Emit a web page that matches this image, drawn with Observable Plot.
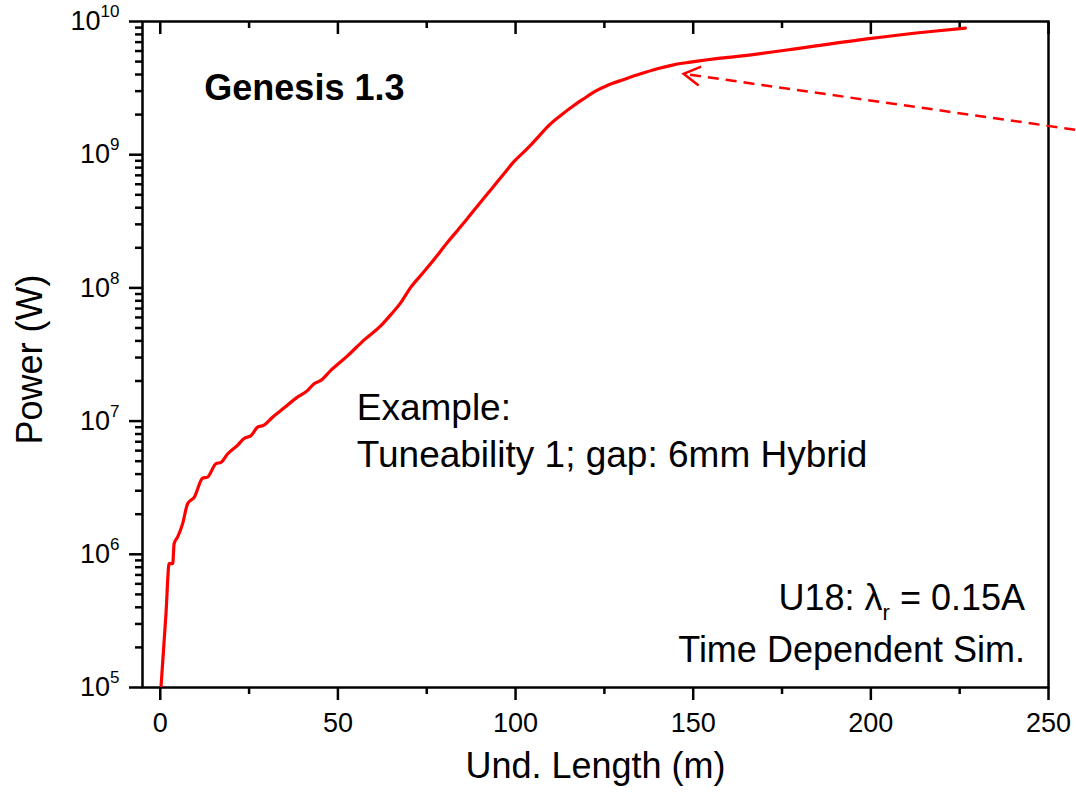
<!DOCTYPE html>
<html>
<head>
<meta charset="utf-8">
<script src="https://cdn.jsdelivr.net/npm/d3@7"></script>
<script src="https://cdn.jsdelivr.net/npm/@observablehq/plot@0.6"></script>
<style>
  body { margin: 0; background: #fff; }
  #chart svg { display: block; }
</style>
</head>
<body>
<div id="chart"></div>
<script>
// ---- data ----
const undLength = [0.2, 1.6, 2.5, 3.5, 3.9, 4.9, 6.3, 7.7, 9.6, 11.9, 13.3, 15.7, 17.1, 19.0, 21.8, 23.6, 25.5, 27.4, 29.2, 31.6, 34.9, 38.4, 41.5, 43.3, 45.2, 48.0, 52.7, 57.4, 62.1, 64.9, 67.7, 70.5, 74.2, 77.1, 80.8, 83.6, 86.4, 90.2, 93.3, 96.5, 99.6, 103.3, 106.6, 109.4, 112.7, 116.4, 119.2, 122.5, 125.8, 130.5, 135.2, 139.9, 144.5, 149.2, 157.7, 161.4, 180.2, 198.9, 217.7, 226.6];
const power = [1.00e5, 3.55e5, 8.5e5, 8.5e5, 1.20e6, 1.35e6, 1.70e6, 2.40e6, 2.69e6, 3.72e6, 3.80e6, 4.79e6, 4.90e6, 5.69e6, 6.61e6, 7.41e6, 7.76e6, 9.02e6, 9.33e6, 1.07e7, 1.26e7, 1.50e7, 1.70e7, 1.91e7, 2.02e7, 2.40e7, 3.09e7, 4.07e7, 5.20e7, 6.30e7, 7.76e7, 1.01e8, 1.32e8, 1.64e8, 2.19e8, 2.69e8, 3.31e8, 4.42e8, 5.56e8, 7.08e8, 8.91e8, 1.11e9, 1.38e9, 1.66e9, 1.97e9, 2.34e9, 2.63e9, 3.00e9, 3.31e9, 3.67e9, 4.05e9, 4.42e9, 4.73e9, 4.95e9, 5.31e9, 5.43e9, 6.31e9, 7.41e9, 8.45e9, 8.91e9];

const xTicks = [0, 50, 100, 150, 200, 250];
const xMinorTicks = [25, 75, 125, 175, 225];
const yTicks = [1e5, 1e6, 1e7, 1e8, 1e9, 1e10];
const yMinorTicks = [2e5,3e5,4e5,5e5,6e5,7e5,8e5,9e5, 2e6,3e6,4e6,5e6,6e6,7e6,8e6,9e6, 2e7,3e7,4e7,5e7,6e7,7e7,8e7,9e7, 2e8,3e8,4e8,5e8,6e8,7e8,8e8,9e8, 2e9,3e9,4e9,5e9,6e9,7e9,8e9,9e9];

const xLabel = "Und. Length (m)";
const yLabel = "Power (W)";
const titleText = "Genesis 1.3";
const exampleLines = ["Example:", "Tuneability 1; gap: 6mm Hybrid"];
const simLines = ["U18: λ_r = 0.15A", "Time Dependent Sim."];

// arrow (pointer) annotation: tail and tip in data coordinates
const arrowTail = {x: 257.5, y: 1.54e9};
const arrowTip = {x: 147.3, y: 4.05e9};

// ---- build ----
const curve = undLength.map((x, i) => ({x, y: power[i]}));
const FONT = "'Liberation Sans', Arial, Helvetica, sans-serif";
const RED = "#ff0000";

const arrowHead = {
  draw(ctx) {
    const L = 19, a = Math.PI / 6;
    ctx.moveTo(L * Math.cos(a), -L * Math.sin(a));
    ctx.lineTo(0, 0);
    ctx.lineTo(L * Math.cos(a), L * Math.sin(a));
  }
};

const svg = Plot.plot({
  width: 1076,
  height: 800,
  marginLeft: 142,
  marginRight: 28,
  marginTop: 21,
  marginBottom: 113,
  style: {fontFamily: FONT, fontSize: "27px", background: "#fff", color: "#000"},
  x: {domain: [-5, 250], label: null},
  y: {type: "log", domain: [1e5, 1e10], label: null},
  marks: [
    // bottom axis: major + minor outward ticks
    Plot.axisX({ticks: xTicks, anchor: "bottom", tickSize: 13, tickPadding: 12, strokeWidth: 2.5, fontSize: 27, label: null, tickFormat: d => String(d)}),
    Plot.axisX({ticks: xMinorTicks, anchor: "bottom", tickSize: 7, strokeWidth: 2.5, label: null, tickFormat: () => ""}),
    // top axis: inward ticks, no labels
    Plot.axisX({ticks: xTicks, anchor: "top", tickSize: -12, strokeWidth: 2.5, label: null, tickFormat: () => ""}),
    Plot.axisX({ticks: xMinorTicks, anchor: "top", tickSize: -6, strokeWidth: 2.5, label: null, tickFormat: () => ""}),
    // left axis
    Plot.axisY({ticks: yTicks, anchor: "left", tickSize: 13, tickPadding: 10, strokeWidth: 2.5, fontSize: 27, label: null, tickFormat: d => "10^" + Math.round(Math.log10(d))}),
    Plot.axisY({ticks: yMinorTicks, anchor: "left", tickSize: 7, strokeWidth: 2.5, label: null, tickFormat: () => ""}),
    Plot.frame({stroke: "#000", strokeWidth: 2.5}),
    // curve
    Plot.line(curve, {x: "x", y: "y", stroke: RED, strokeWidth: 3.2, curve: "monotone-x", clip: true}),
    // dashed pointer
    Plot.link([{x1: arrowTail.x, y1: arrowTail.y, x2: arrowTip.x, y2: arrowTip.y}], {x1: "x1", y1: "y1", x2: "x2", y2: "y2", stroke: RED, strokeWidth: 2.5, strokeDasharray: "11,7"}),
    Plot.dot([arrowTip], {x: "x", y: "y", symbol: arrowHead, fill: "none", stroke: RED, strokeWidth: 2.5, rotate: 7.7}),
    // annotations
    Plot.text([titleText], {x: () => 12.4, y: () => 3.16e9, text: d => d, textAnchor: "start", fontSize: 36, fontWeight: "bold"}),
    Plot.text([exampleLines[0]], {x: () => 55.3, y: () => 1.245e7, text: d => d, textAnchor: "start", fontSize: 37}),
    Plot.text([exampleLines[1]], {x: () => 55.3, y: () => 5.56e6, text: d => d, textAnchor: "start", fontSize: 37}),
    Plot.text([simLines[0]], {x: () => 243.4, y: () => 4.66e5, text: d => d, textAnchor: "end", fontSize: 36}),
    Plot.text([simLines[1]], {x: () => 243.4, y: () => 1.90e5, text: d => d, textAnchor: "end", fontSize: 36}),
    // axis titles
    Plot.text([xLabel], {frameAnchor: "bottom", dy: 90, text: d => d, textAnchor: "middle", fontSize: 36}),
    Plot.text([yLabel], {frameAnchor: "left", dx: -112, dy: 5, rotate: -90, text: d => d, textAnchor: "middle", fontSize: 36})
  ]
});

// superscripts / subscripts as real text
const NS = "http://www.w3.org/2000/svg";
svg.querySelectorAll("text").forEach(t => {
  const s = t.textContent;
  let m = s.match(/^10\^(\d+)$/);
  if (m) {
    t.textContent = "10";
    const sup = document.createElementNS(NS, "tspan");
    sup.setAttribute("dy", "-13");
    sup.setAttribute("font-size", "17");
    sup.textContent = m[1];
    t.appendChild(sup);
    return;
  }
  m = s.match(/^(.*)_(\w)(.*)$/);
  if (m) {
    t.textContent = m[1];
    const sub = document.createElementNS(NS, "tspan");
    sub.setAttribute("dy", "10");
    sub.setAttribute("font-size", "22");
    sub.textContent = m[2];
    t.appendChild(sub);
    const rest = document.createElementNS(NS, "tspan");
    rest.setAttribute("dy", "-10");
    rest.textContent = m[3];
    t.appendChild(rest);
  }
});

document.getElementById("chart").appendChild(svg);
</script>
</body>
</html>
